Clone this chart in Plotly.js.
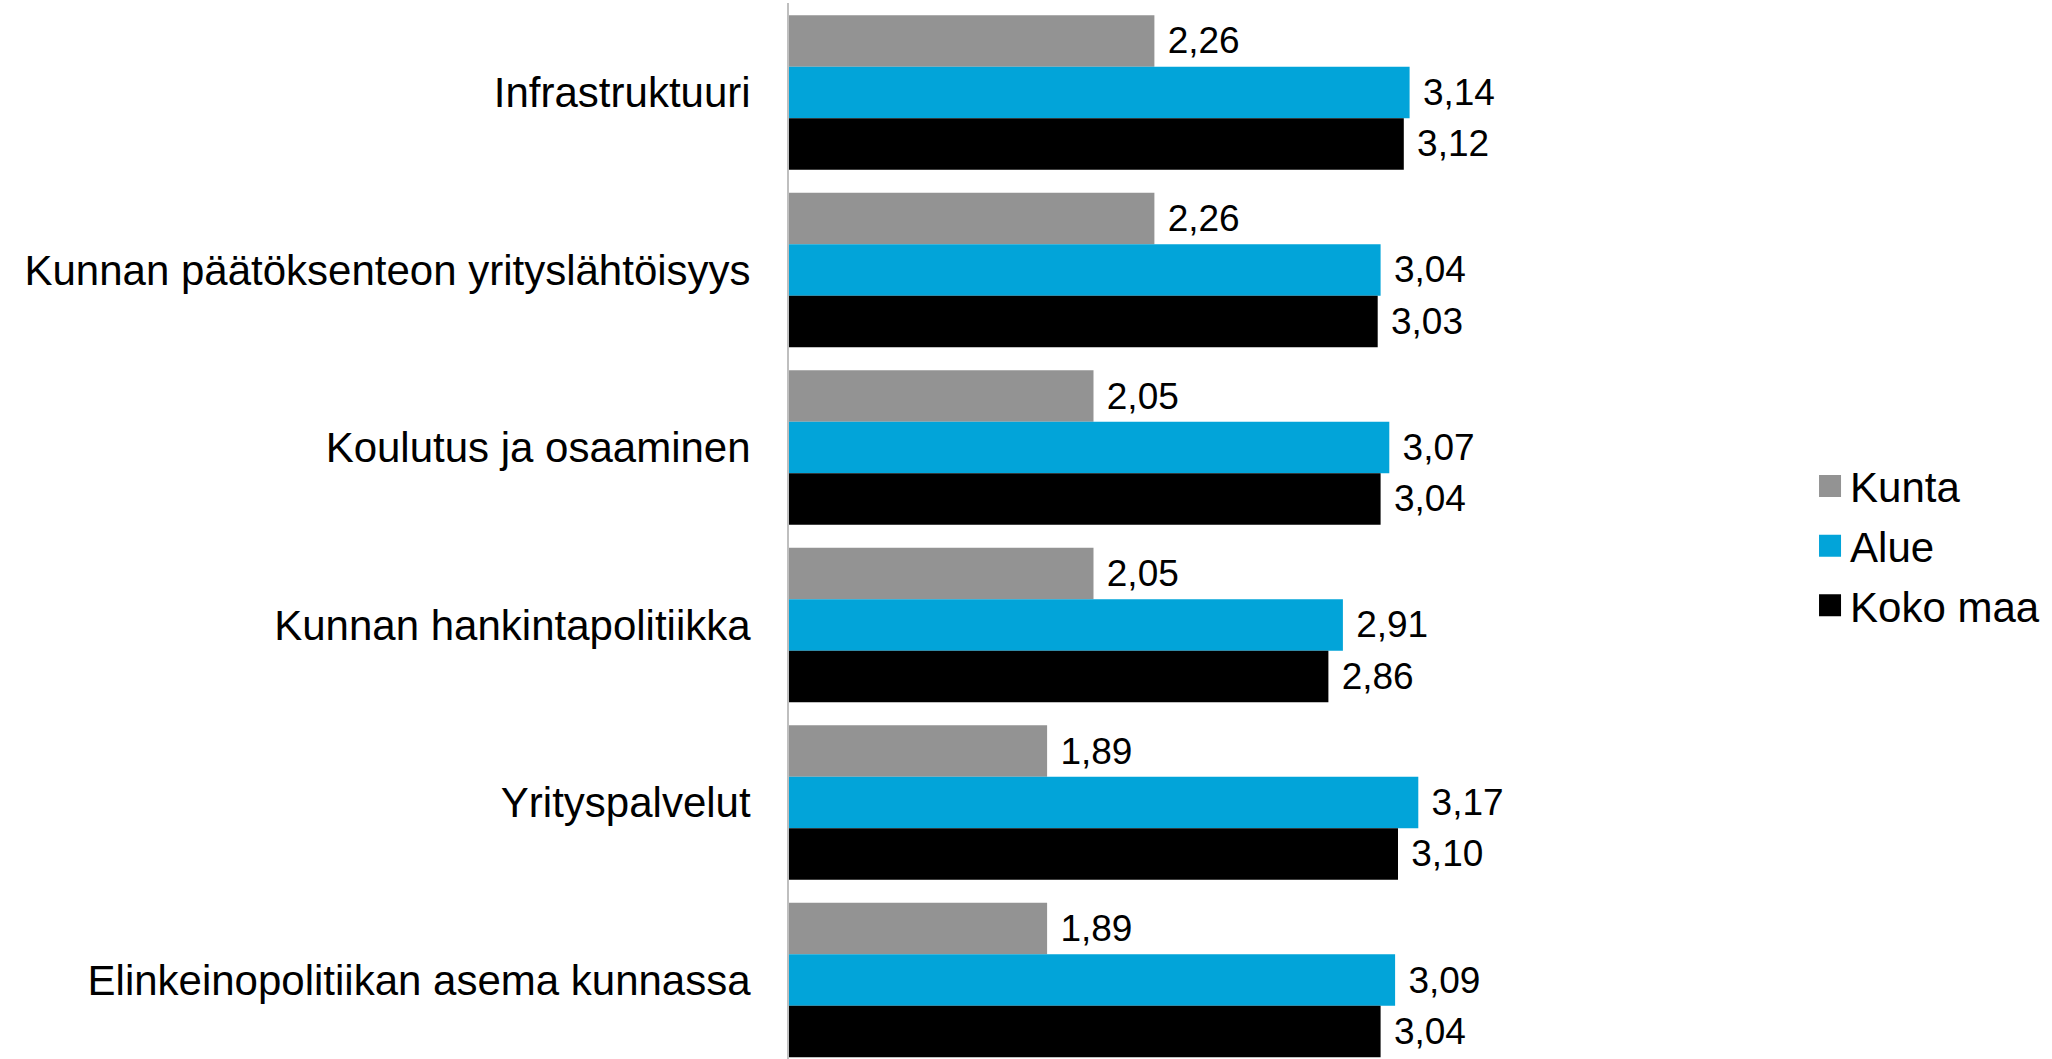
<!DOCTYPE html>
<html>
<head>
<meta charset="utf-8">
<script src="https://cdn.plot.ly/plotly-3.0.1.min.js"></script>
<style>
  html, body { margin: 0; padding: 0; background: #ffffff; }
  #chart { width: 2052px; height: 1059px; }
</style>
</head>
<body>
<div id="chart"></div>
<script>
const categories = [
  "Infrastruktuuri",
  "Kunnan päätöksenteon yrityslähtöisyys",
  "Koulutus ja osaaminen",
  "Kunnan hankintapolitiikka",
  "Yrityspalvelut",
  "Elinkeinopolitiikan asema kunnassa"
];
const kunta   = [2.26, 2.26, 2.05, 2.05, 1.89, 1.89];
const alue    = [3.14, 3.04, 3.07, 2.91, 3.17, 3.09];
const kokoMaa = [3.12, 3.03, 3.04, 2.86, 3.10, 3.04];

const seriesNames = ["Kunta", "Alue", "Koko maa"];
const seriesValues = [kunta, alue, kokoMaa];
const seriesColors = ["#939393", "#02A4D9", "#000000"];

const FONT = "'Liberation Sans', Arial, 'DejaVu Sans', sans-serif";

const traces = seriesValues.map((vals, i) => ({
  type: "bar",
  orientation: "h",
  name: seriesNames[i],
  legendgroup: "g" + i,
  y: categories,
  x: vals,
  marker: { color: seriesColors[i] },
  texttemplate: "\u00a0%{x:.2f}",
  textposition: "outside",
  constraintext: "none",
  cliponaxis: false,
  textfont: { family: FONT, size: 37, color: "#000000" },
  hoverinfo: "skip"
}));

const layout = {
  width: 2052,
  height: 1059,
  margin: { l: 789, r: 393, t: 3, b: 0, pad: 0 },
  paper_bgcolor: "#ffffff",
  plot_bgcolor: "#ffffff",
  font: { family: FONT, size: 42, color: "#000000" },
  separators: ",.",
  barmode: "group",
  bargap: 0.13,
  bargroupgap: 0,
  showlegend: true,
  legend: {
    x: 1.1736,
    xanchor: "left",
    y: 0.486,
    yanchor: "middle",
    font: { family: FONT, size: 42, color: "#000000" },
    traceorder: "grouped",
    tracegroupgap: 2,
    bgcolor: "rgba(0,0,0,0)",
    borderwidth: 0
  },
  xaxis: {
    range: [1, 4],
    showgrid: false,
    zeroline: false,
    showline: false,
    showticklabels: false,
    ticks: "",
    fixedrange: true
  },
  yaxis: {
    type: "category",
    range: [5.445, -0.504],
    showgrid: false,
    zeroline: false,
    showline: true,
    linecolor: "#bfbfbf",
    linewidth: 2,
    ticks: "",
    ticklabelstandoff: 28,
    tickfont: { family: FONT, size: 42, color: "#000000" },
    fixedrange: true
  }
};

Plotly.newPlot("chart", traces, layout, { displayModeBar: false, staticPlot: true }).then(function (gd) {
  gd.querySelectorAll(".legend .legendpoints path").forEach(function (p) {
    var bb = p.getBBox();
    var cx = bb.x + bb.width / 2;
    var cy = bb.y + bb.height / 2;
    var h = 11;
    p.setAttribute("d", "M" + (cx + h) + "," + (cy + h) + "H" + (cx - h) + "V" + (cy - h) + "H" + (cx + h) + "Z");
  });
});
</script>
</body>
</html>
